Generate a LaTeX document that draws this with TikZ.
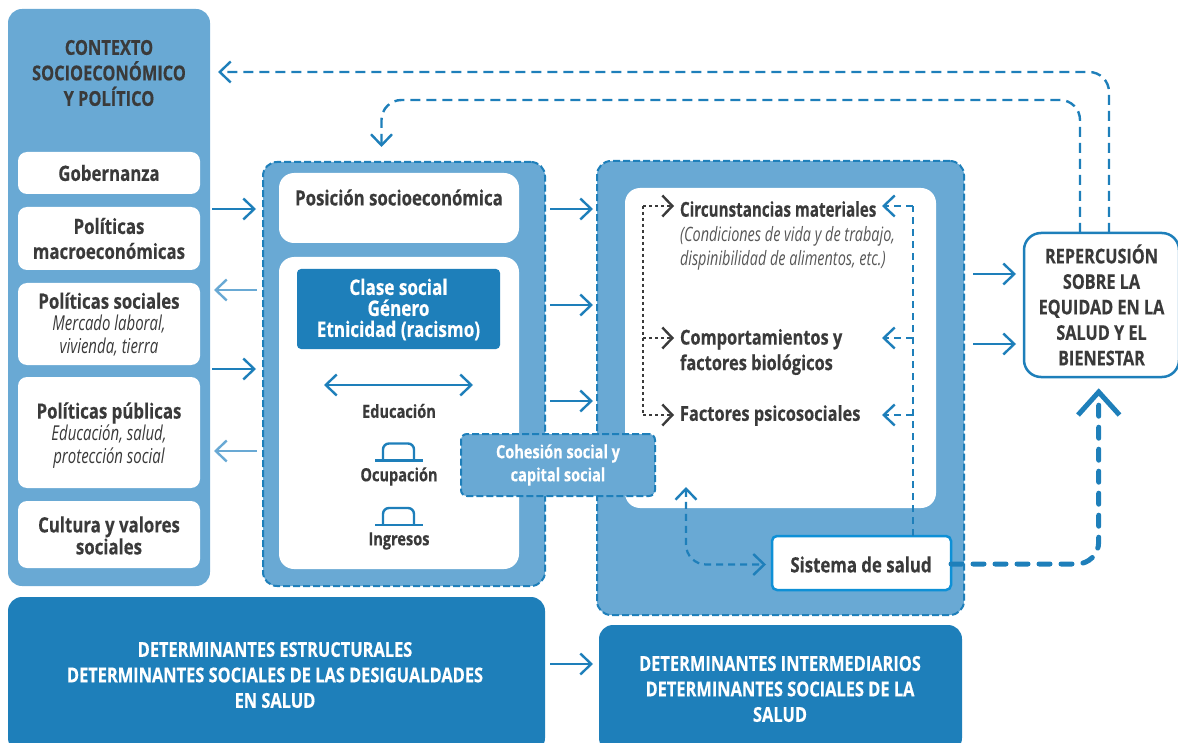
\documentclass[tikz,border=0pt]{standalone}
\usepackage{fontspec}
\setmainfont{Open Sans}[FakeStretch=0.80,BoldFeatures={FakeBold=0.4}]
\newfontfamily\subfam{Open Sans}[FakeStretch=0.73]
\usetikzlibrary{arrows.meta}
\definecolor{lb}{HTML}{69A9D4}
\definecolor{db}{HTML}{1E7FBA}
\definecolor{ink}{HTML}{3A3A3A}
\definecolor{sb}{HTML}{0E90D6}
\newcommand\bx[7]{\node[#2,minimum width={(#5)-(#3)},minimum height={(#6)-(#4)}] (#1) at ({((#3)+(#5))/2},{((#4)+(#6))/2}) {#7};}
\newcommand\hatshape[1]{\draw[hatline] (#1.west) -- (#1.east);
  \draw[hatline,rounded corners=6pt] ([xshift=8pt]#1.west) -- ++(0,-17) -- ([xshift=-9pt,yshift=17pt]#1.east) -- ([xshift=-9pt]#1.east);}
\newcommand\subt{\mdseries\subfam\itshape\fontsize{20.5}{23}\selectfont}
\newcommand\bigtxt{\bfseries\fontsize{21}{25}\selectfont}
\tikzset{
 x=1pt,y=-1pt,
 every node/.style={inner sep=0pt,outer sep=0pt},
 lbl/.style={font=\bfseries\fontsize{20.5}{25.5}\selectfont,text=ink,align=center},
 wbox/.style={fill=white,rounded corners=9pt,align=center,font=\bigtxt,text=ink},
 wbig/.style={fill=white,rounded corners=15pt},
 panel/.style={fill=lb,rounded corners=14pt},
 dashpanel/.style={fill=lb,draw=db,line width=2pt,rounded corners=14pt,dash pattern=on 7pt off 3pt},
 darkbox/.style={fill=db,rounded corners=14pt},
 small/.style={lbl,font=\bfseries\fontsize{18.2}{20}\selectfont},
 arr/.style={draw=db,line width=2.4pt,-{Straight Barb[length=11pt,width=21pt,line width=2.4pt]}},
 larr/.style={arr,draw=lb,-{Straight Barb[length=11pt,width=21pt,line width=2.4pt,color=lb]}},
 dbl/.style={arr,{Straight Barb[length=11pt,width=21pt,line width=2.4pt]}-{Straight Barb[length=11pt,width=21pt,line width=2.4pt]}},
 dasharr/.style={arr,dash pattern=on 10pt off 6pt,rounded corners=20pt},
 inarr/.style={arr,line width=2.2pt,dash pattern=on 7pt off 5pt},
 dotarr/.style={draw=ink,line width=2.4pt,dash pattern=on 3pt off 3pt,-{Straight Barb[length=10pt,width=21pt,line width=2.4pt,color=ink]}},
 dotline/.style={draw=ink,line width=2.4pt,dash pattern=on 3pt off 3pt},
 thickarr/.style={draw=db,line width=5pt,line cap=round,dash pattern=on 11pt off 11pt,rounded corners=22pt},
 hatline/.style={draw=db,line width=2.4pt},
}
\begin{document}
\begin{tikzpicture}
\clip (0,0) rectangle (1178,743);
% panels
\bx{ctx}{panel}{8}{9}{210}{586}{}
\node[lbl] (ctxt) at (109,73) {CONTEXTO\\SOCIOECONÓMICO\\Y POLÍTICO};
\bx{gob}{wbox}{18}{152}{200}{194}{Gobernanza}
\bx{mac}{wbox}{18}{207}{200}{270}{Políticas\\macroeconómicas}
\bx{soc}{wbox}{18}{283}{200}{365}{}
\node[align=center,font=\bigtxt,text=ink] (soct) at (109,324.5) {Políticas sociales\\[-3pt]\subt Mercado laboral,\\[-2pt]\subt vivienda, tierra};
\bx{pub}{wbox}{18}{377}{200}{488}{}
\node[align=center,font=\bigtxt,text=ink] (pubt) at (109,435.5) {Políticas públicas\\[-3pt]\subt Educación, salud,\\[-2pt]\subt protección social};
\bx{cul}{wbox}{18}{501}{200}{568}{}
\node[align=center,font=\bigtxt,text=ink] (cult) at (109,535.5) {Cultura y valores\\[-3pt]sociales};
\bx{pos}{dashpanel}{263}{162}{545}{586}{}
\bx{posw}{wbig}{279}{173}{519}{243}{}
\node[lbl,font=\bigtxt] (post) at (399,197.5) {Posición socioeconómica};
\bx{inw}{wbig}{279}{257}{519}{569}{}
\bx{cla}{fill=db,rounded corners=4pt}{297}{269}{500}{349}{}
\node[text=white,align=center,font=\bfseries\fontsize{21.4}{21}\selectfont] (clat) at (398.5,309.5) {Clase social\\Género\\Etnicidad (racismo)};
\node[small] (edu) at (399,411) {Educación};
\node[small] (ocu) at (399,476.5) {Ocupación};
\node[small] (ing) at (399,541) {Ingresos};
\node[minimum width=48pt,minimum height=0pt] (hat1) at (399,460.5) {};
\node[minimum width=48pt,minimum height=0pt] (hat2) at (399,525) {};
\hatshape{hat1}
\hatshape{hat2}
\coordinate (el) at (324,385);
\coordinate (er) at (473,385);
\draw[dbl] (el) -- (er);
\bx{int}{dashpanel}{597}{161}{964}{615}{}
\bx{intw}{wbig}{625}{188}{936}{508}{}
\node[lbl,anchor=west,font=\bfseries\addfontfeatures{FakeStretch=0.74}\fontsize{20.5}{25}\selectfont] (circ) at (680,209) {Circunstancias materiales};
\node[anchor=west,align=left,text=ink!85,font=\subfam\itshape\fontsize{19.8}{24}\selectfont] (cond) at (680,248.5) {(Condiciones de vida y de trabajo,\\dispinibilidad de alimentos, etc.)};
\node[lbl,anchor=west,align=left] (comp) at (680,352) {Comportamientos y\\factores biológicos};
\node[lbl,anchor=west] (fact) at (680,415.5) {Factores psicosociales};
\bx{sis}{fill=white,draw=sb,line width=2.5pt,rounded corners=5pt}{772}{536}{951}{590}{}
\node[font=\bigtxt,text=ink] (sist) at (861,564.5) {Sistema de salud};
\bx{rep}{fill=white,draw=db,line width=2.5pt,rounded corners=17pt,align=center,font=\bfseries\fontsize{20.3}{25.5}\selectfont,text=ink}{1024}{233}{1179}{377}{REPERCUSIÓN\\SOBRE LA\\EQUIDAD EN LA\\SALUD Y EL\\BIENESTAR}
\bx{dl}{darkbox}{8}{597}{545}{752}{}
\node[lbl,text=white] (dlt) at (275,675) {DETERMINANTES ESTRUCTURALES\\DETERMINANTES SOCIALES DE LAS DESIGUALDADES\\EN SALUD};
\bx{dr}{darkbox}{599}{625}{962}{752}{}
\node[lbl,text=white] (drt) at (780,689) {DETERMINANTES INTERMEDIARIOS\\DETERMINANTES SOCIALES DE LA\\SALUD};
% rows
\coordinate (r1) at (0,209); \coordinate (r2) at (0,290); \coordinate (r3) at (0,369); \coordinate (r4) at (0,451);
\coordinate (m2) at (0,305); \coordinate (m3) at (0,401);
\coordinate (q1) at (0,274); \coordinate (q2) at (0,344); \coordinate (b1) at (0,664);
\draw[arr] ([xshift=2pt]ctx.east |- r1) -- ([xshift=-7pt]pos.west |- r1);
\draw[larr] ([xshift=-6pt]pos.west |- r2) -- ([xshift=4pt]ctx.east |- r2);
\draw[arr] ([xshift=2pt]ctx.east |- r3) -- ([xshift=-7pt]pos.west |- r3);
\draw[larr] ([xshift=-6pt]pos.west |- r4) -- ([xshift=4pt]ctx.east |- r4);
\draw[arr] ([xshift=5pt]pos.east |- r1) -- ([xshift=-4pt]int.west |- r1);
\draw[arr] ([xshift=5pt]pos.east |- m2) -- ([xshift=-4pt]int.west |- m2);
\draw[arr] ([xshift=5pt]pos.east |- m3) -- ([xshift=-4pt]int.west |- m3);
\draw[arr] ([xshift=9pt]int.east |- q1) -- ([xshift=-8pt]rep.west |- q1);
\draw[arr] ([xshift=9pt]int.east |- q2) -- ([xshift=-8pt]rep.west |- q2);
\draw[arr] ([xshift=5pt]dl.east |- b1) -- ([xshift=-6pt]dr.west |- b1);
% feedback
\coordinate (v1) at (1109,0); \coordinate (v2) at (1080,0);
\coordinate (t1) at (218,72); \coordinate (t2) at (381.5,147);
\draw[dasharr] (rep.north -| v1) -- (v1 |- t1) -- (t1);
\draw[dasharr] (rep.north -| v2) -- (1080,100) -- (381.5,100) -- (t2);
% dotted
\coordinate (dx) at (643,0); \coordinate (h1) at (0,206); \coordinate (h2) at (0,338); \coordinate (h3) at (0,415);
\draw[dotline] (dx |- h1) -- (dx |- h3);
\draw[dotarr] (dx |- h1) -- ([xshift=-6pt]circ.west |- h1);
\draw[dotarr] (dx |- h2) -- ([xshift=-6pt]comp.west |- h2);
\draw[dotarr] (dx |- h3) -- ([xshift=-6pt]fact.west |- h3);
% right dashed
\coordinate (vb) at (912.7,0); \coordinate (ax) at (882,0);
\draw[draw=db,line width=2.2pt,dash pattern=on 7pt off 5pt] (sis.north -| vb) -- (vb |- h1);
\draw[inarr] (vb |- h1) -- (ax |- h1);
\draw[inarr] (vb |- h2) -- (ax |- h2);
\draw[inarr] (vb |- h3) -- (ax |- h3);
% health
\coordinate (u) at (686,487);
\draw[inarr,rounded corners=20pt,{Straight Barb[length=11pt,width=21pt,line width=2.4pt]}-{Straight Barb[length=11pt,width=21pt,line width=2.4pt]}] (u) -- (686,564.5) -- ([xshift=-6pt]sis.west |- 0,564.5);
\draw[thickarr] (sis.east |- 0,564) -- (1098.7,564) -- (1098.7,404);
\coordinate (tp) at (1098.7,392);
\draw[draw=db,line width=5pt] (1078,415) -- (tp) -- (1119.5,415);
% cohesion on top
\bx{coh}{dashpanel,rounded corners=6pt}{461}{434}{655}{496}{}
\node[text=white,align=center,font=\bfseries\fontsize{18.2}{23}\selectfont] (coht) at (558,465) {Cohesión social y\\capital social};
\end{tikzpicture}
\end{document}
